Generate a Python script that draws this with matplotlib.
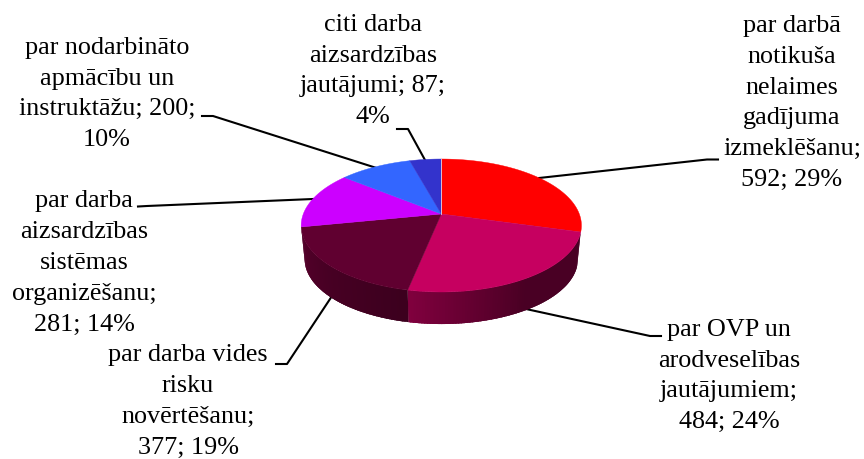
import numpy as np
import matplotlib
matplotlib.use("Agg")
import matplotlib.pyplot as plt
from matplotlib.colors import to_rgb

# ---------------------------------------------
# data
labels = [
    "par darbā\nnotikuša\nnelaimes\ngadījuma\nizmeklēšanu;\n592; 29%",
    "par OVP un\narodveselības\njautājumiem;\n484; 24%",
    "par darba vides\nrisku\nnovērtēšanu;\n377; 19%",
    "par darba\naizsardzības\nsistēmas\norganizēšanu;\n281; 14%",
    "par nodarbināto\napmācību un\ninstruktāžu; 200;\n10%",
    "citi darba\naizsardzības\njautājumi; 87;\n4%",
]
values = [592, 484, 377, 281, 200, 87]
colors = ["#ff0000", "#c60060", "#600030", "#cc00ff", "#3366ff", "#3333cc"]

# ---------------------------------------------
# layout, in pixels of the picture
label_pos = [(792, 103), (729, 376), (188, 401.5), (84, 263), (107, 94), (373, 71)]
leaders = [
    [(539, 178), (707, 159.5), (718, 159.5)],
    [(526, 309), (650, 336), (661, 336)],
    [(332, 296), (287, 364), (276, 364)],
    [(313, 199), (147, 206), (138, 206.5)],
    [(375, 167.5), (213, 116), (202, 116)],
    [(425, 160), (408, 129), (397, 129)],
]
apex_x, apex_y = 441.3, 214
rx, ry, persp = 138, 64.5, 0.173
depth, bottom_scale = 34, 0.975
# side wall brightness along a slice (start, middle, end)
wall_shade = {1: (0.37, 0.37, 0.65), 2: (0.62, 0.74, 0.90)}


def project(t, scale=1.0, drop=0.0):
    # t in degrees clockwise from the top, circle seen in perspective
    t = np.radians(t)
    w = 1 + persp * np.cos(t)
    x = apex_x + scale * rx * np.sin(t) / w
    y = apex_y + drop - scale * ry * np.cos(t) / w
    return x, y


fig = plt.figure(figsize=(8.64, 4.59), dpi=100)
ax = fig.add_axes([0, 0, 1, 1])
ax.set_xlim(0, 864)
ax.set_ylim(459, 0)
ax.axis("off")

angles = np.concatenate([[0], np.cumsum(values) / np.sum(values) * 360])

for line in leaders:
    xs, ys = zip(*line)
    ax.plot(xs, ys, color="black", lw=1.5, zorder=1, solid_joinstyle="round")

# side walls, each strip overlaps the next so no seams show
for i, stops in wall_shade.items():
    a0, a1 = angles[i], angles[i + 1]
    edges = np.linspace(a0, a1, int(a1 - a0) + 1)
    for t0, t1 in zip(edges[:-1], edges[1:]):
        f = ((t0 + t1) / 2 - a0) / (a1 - a0)
        shade = np.interp(f, [0, 0.5, 1], stops)
        col = np.array(to_rgb(colors[i])) * shade
        t = np.linspace(t0, min(t1 + 1.5, a1), 6)
        xt, yt = project(t)
        xb, yb = project(t[::-1], bottom_scale, depth)
        ax.fill(np.r_[xt, xb], np.r_[yt, yb], color=col, lw=0, zorder=2)

# top faces
for i, col in enumerate(colors):
    t = np.linspace(angles[i], angles[i + 1], 200)
    x, y = project(t)
    ax.fill(np.r_[apex_x, x], np.r_[apex_y, y], color=col, lw=0.3, zorder=3)

x0, y0 = project(0.0)
ax.plot([apex_x, x0], [apex_y, y0], color="#f0d0e0", lw=0.6, zorder=4)

for text, (x, y) in zip(labels, label_pos):
    ax.text(x, y, text, ha="center", va="center", ma="center", color="black",
            family="Liberation Serif", fontsize=18.8, linespacing=1.52, zorder=5)

fig.savefig("out.png", dpi=100)
